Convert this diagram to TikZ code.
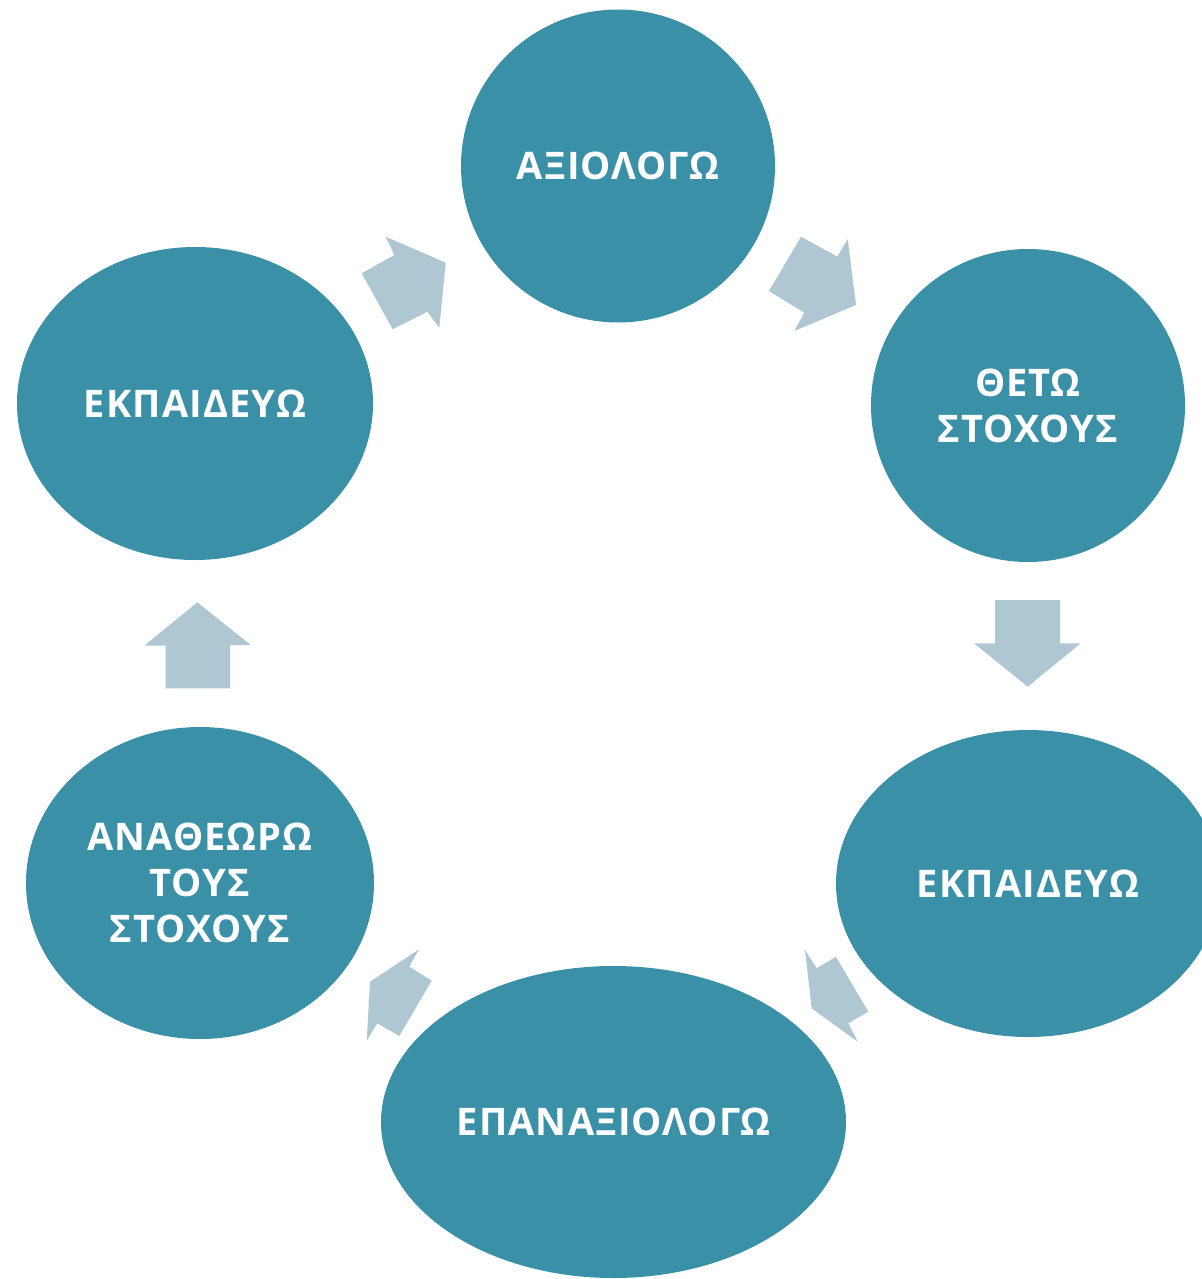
\documentclass[tikz,border=0pt]{standalone}
\usepackage{fontspec}
\setmainfont{Open Sans}[LetterSpace=3]
\usetikzlibrary{shapes.geometric}
\definecolor{tealc}{RGB}{58,144,167}
\definecolor{arrowc}{RGB}{175,199,210}
\begin{document}
\begin{tikzpicture}[x=0.5pt,y=-0.5pt,
  bubble/.style={ellipse, fill=tealc, inner sep=0pt, text=white,
    font=\bfseries\fontsize{19}{23}\selectfont, align=center},
  blockarrow/.style={fill=arrowc}]
\useasboundingbox (0,0) rectangle (1202,1279);
\clip (0,0) rectangle (1202,1279);
% bubbles
\node[bubble, minimum width=157pt, minimum height=156.5pt] (a) at (618,166) {ΑΞΙΟΛΟΓΩ};
\node[bubble, minimum width=157pt, minimum height=156.5pt] (b) at (1028,405.5) {ΘΕΤΩ\\ΣΤΟΧΟΥΣ};
\node[bubble, minimum width=192pt, minimum height=153.5pt] (c) at (1028,883.5) {ΕΚΠΑΙΔΕΥΩ};
\node[bubble, minimum width=232.5pt, minimum height=156pt] (d) at (613.5,1122) {ΕΠΑΝΑΞΙΟΛΟΓΩ};
\node[bubble, minimum width=174pt, minimum height=156pt] (e) at (200,883) {ΑΝΑΘΕΩΡΩ\\ΤΟΥΣ\\ΣΤΟΧΟΥΣ};
\node[bubble, minimum width=178pt, minimum height=156.5pt] (f) at (195,403.5) {ΕΚΠΑΙΔΕΥΩ};
% block arrows
\fill[blockarrow] (445.7,262.7) -- (385.7,236.7) -- (394.3,255) -- (361.7,273.3) -- (392.7,329.3) -- (427.3,311.7) -- (439.3,327.7) -- cycle;
\fill[blockarrow] (856,305) -- (794.3,331) -- (804.3,312.7) -- (769,291) -- (801,236.7) -- (837.3,256.7) -- (847.7,239) -- cycle;
\fill[blockarrow] (1027.7,686.7) -- (974,643.3) -- (995,643.3) -- (995,600) -- (1060,600) -- (1060,643.3) -- (1080.7,643.3) -- cycle;
\fill[blockarrow] (811.7,1008.3) -- (805,950) -- (816.7,968.3) -- (836,956.7) -- (868.3,1011.7) -- (848.3,1023.3) -- (857.7,1041.7) -- cycle;
\fill[blockarrow] (370,981.7) -- (419,949.3) -- (409.3,966.7) -- (431.7,980.7) -- (399.3,1036) -- (377.3,1023.3) -- (366.7,1040.7) -- cycle;
\fill[blockarrow] (197.3,602.3) -- (250.7,645) -- (230,645) -- (230,688.3) -- (165.7,688.3) -- (165.7,645.7) -- (144.3,645.7) -- cycle;
\end{tikzpicture}
\end{document}
